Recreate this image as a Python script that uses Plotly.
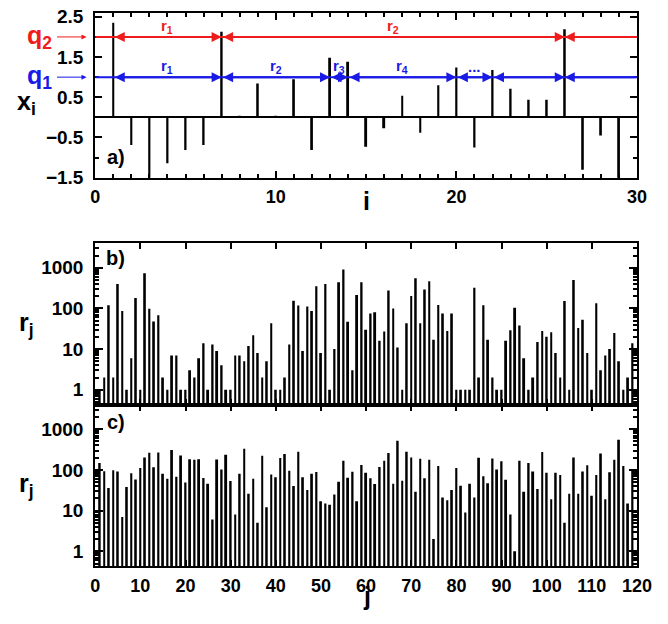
import plotly.graph_objects as go

# ---------------- data ----------------
# panel a: series x_i, i = 1..29
i_vals = list(range(1, 30))
x_vals = [2.35, -0.69, -1.60, -1.14, -0.81, -0.69, 2.13, 0.04, 0.84, 0.04,
          0.95, -0.81, 1.48, 1.38, -0.73, -0.27, 0.54, -0.38, 0.80, 1.24,
          -0.75, 1.18, 0.71, 0.44, 0.44, 2.19, -1.30, -0.45, -1.60]
q_levels = [1.0, 2.0]
q_names = ["q<sub>1</sub>", "q<sub>2</sub>"]
q_colors = ["#1a1ae6", "#ee1c1c"]
seg_labels_q1 = ["r<sub>1</sub>", "r<sub>2</sub>", "r<sub>3</sub>", "r<sub>4</sub>", "...", ""]
seg_labels_q2 = ["r<sub>1</sub>", "r<sub>2</sub>"]

# panels b and c: return intervals r_j, j = 1..119
j_vals = list(range(1, 120))
r_b = [1, 2, 120, 2, 400, 87, 1, 6, 180, 1,
       735, 98, 48, 68, 2, 1, 7, 7, 1, 1,
       3, 2, 6, 14, 1, 13, 9, 4, 1, 1,
       7, 7, 5, 12, 22, 8, 2, 5, 43, 1,
       1, 2, 13, 155, 118, 9, 111, 87, 353, 8,
       400, 1, 10, 440, 900, 47, 3, 215, 440, 30,
       75, 81, 16, 27, 277, 100, 11, 1, 43, 203,
       550, 43, 294, 465, 17, 122, 75, 28, 75, 1,
       1, 1, 1, 323, 2, 120, 17, 2, 1, 1,
       16, 29, 104, 38, 6, 1, 2, 15, 28, 20,
       26, 8, 2, 152, 1, 500, 33, 53, 8, 1,
       134, 3, 7, 10, 25, 5, 1, 2, 14]
r_c = [148, 93, 36, 98, 91, 7, 38, 83, 58, 112,
       202, 263, 116, 268, 80, 61, 309, 68, 225, 49,
       184, 178, 184, 63, 46, 6, 180, 102, 235, 53,
       8, 80, 332, 26, 61, 5, 222, 12, 77, 66,
       195, 247, 96, 40, 280, 66, 32, 80, 89, 17,
       15, 14, 25, 51, 168, 64, 90, 17, 132, 85,
       62, 45, 118, 168, 262, 46, 520, 54, 280, 203,
       29, 187, 62, 178, 2, 125, 21, 18, 32, 112,
       41, 9, 46, 21, 200, 70, 47, 190, 102, 163,
       57, 8, 1, 168, 29, 148, 91, 34, 277, 85,
       19, 85, 75, 5, 26, 203, 26, 91, 130, 23,
       75, 253, 19, 87, 178, 550, 125, 15, 100]

a_xticks = [0, 10, 20, 30]
a_yticks = [-1.5, -0.5, 0.5, 1.5, 2.5]
bc_xticks = list(range(0, 121, 10))
log_ticks = [1, 10, 100, 1000]
log_ticktext = ["1", "10", "100", "1000"]

# ---------------- layout helpers ----------------
W, H = 668, 624
FONT = "Liberation Sans, Arial, sans-serif"
def px_x(p):
    return p / W
def px_y(p):
    return min(1.0, 1 - p / H)

xdom = [px_x(93), px_x(651.5)]
minor_log = [m * 10 ** k for k in range(-1, 4) for m in range(2, 10)]

fig = go.Figure()
fig.add_trace(go.Bar(x=i_vals, y=x_vals, width=0.11, marker=dict(color="black", line=dict(width=0)),
                     xaxis="x", yaxis="y"))
fig.add_trace(go.Bar(x=j_vals, y=r_b, width=0.42, marker=dict(color="black", line=dict(width=0)),
                     xaxis="x2", yaxis="y2"))
fig.add_trace(go.Bar(x=j_vals, y=r_c, width=0.42, marker=dict(color="black", line=dict(width=0)),
                     xaxis="x3", yaxis="y3"))

tickfont = dict(family=FONT, size=19, color="black", weight="bold")
xtickfont = dict(family=FONT, size=18, color="black", weight="bold")
common_axis = dict(showline=True, linecolor="black", linewidth=2, mirror="ticks", ticks="inside",
                   tickcolor="black", tickwidth=1.5, showgrid=False)

fig.update_layout(
    width=W, height=H, margin=dict(l=0, r=0, t=0, b=0),
    paper_bgcolor="white", plot_bgcolor="white", showlegend=False,
    xaxis=dict(domain=xdom, anchor="y", range=[0, 30], tickmode="array", tickvals=a_xticks,
               ticklen=7, minor=dict(dtick=1, tick0=0, ticks="inside", ticklen=4, tickcolor="black"),
               ticklabelstandoff=2, zeroline=False, tickfont=xtickfont, **common_axis),
    yaxis=dict(domain=[px_y(176.5), px_y(7)], anchor="x", range=[-1.5, 2.6], tickmode="array",
               tickvals=a_yticks, tickformat=".1f", ticklen=7,
               minor=dict(tickmode="array", tickvals=[-1, 0, 1, 2], ticks="inside", ticklen=4, tickcolor="black"),
               ticklabelstandoff=6, zeroline=True, zerolinecolor="black", zerolinewidth=1.5,
               tickfont=tickfont, **common_axis),
    xaxis2=dict(domain=xdom, anchor="y2", range=[0, 120], tickmode="array", tickvals=bc_xticks,
                showticklabels=False, ticklen=6, zeroline=False, tickfont=xtickfont, **common_axis),
    yaxis2=dict(domain=[px_y(410), px_y(244)], anchor="x2", type="log", range=[-0.37, 3.6],
                tickmode="array", tickvals=log_ticks, ticktext=log_ticktext, ticklen=8,
                minor=dict(tickmode="array", tickvals=minor_log, ticks="inside", ticklen=4, tickcolor="black"),
                ticklabelstandoff=6, zeroline=False, tickfont=tickfont, **common_axis),
    xaxis3=dict(domain=xdom, anchor="y3", range=[0, 120], tickmode="array", tickvals=bc_xticks,
                ticklen=6, ticklabelstandoff=2, zeroline=False, tickfont=xtickfont, **common_axis),
    yaxis3=dict(domain=[px_y(576), px_y(410)], anchor="x3", type="log", range=[-0.37, 3.6],
                tickmode="array", tickvals=log_ticks, ticktext=log_ticktext, ticklen=8,
                minor=dict(tickmode="array", tickvals=minor_log, ticks="inside", ticklen=4, tickcolor="black"),
                ticklabelstandoff=6, zeroline=False, tickfont=tickfont, **common_axis),
)

annotations = []
shapes = []
seg_label_sets = [seg_labels_q1, seg_labels_q2]
for q, name, col, labels in zip(q_levels, q_names, q_colors, seg_label_sets):
    # threshold line
    shapes.append(dict(type="line", xref="x", yref="y", x0=0, x1=30, y0=q, y1=q,
                       line=dict(color=col, width=2), layer="above"))
    cross = [iv for iv, v in zip(i_vals, x_vals) if v > q]
    # double-headed arrows between successive exceedances
    for k in range(len(cross) - 1):
        a0, a1 = cross[k], cross[k + 1]
        annotations.append(dict(x=a1, y=q, ax=a0, ay=q, xref="x", yref="y", axref="x", ayref="y",
                                text="", showarrow=True, arrowside="end+start", arrowhead=2,
                                arrowsize=1.0, arrowwidth=2, arrowcolor=col, standoff=0, startstandoff=0))
        if k < len(labels) and labels[k]:
            annotations.append(dict(x=(a0 + a1) / 2, y=q + 0.27, xref="x", yref="y",
                                    xanchor="center", yanchor="middle",
                                    text="<b>" + labels[k] + "</b>",
                                    showarrow=False, font=dict(family=FONT, size=15, color=col)))
    # last open interval
    annotations.append(dict(x=cross[-1], y=q, ax=30, ay=q, xref="x", yref="y", axref="x", ayref="y",
                            text="", showarrow=True, arrowside="end", arrowhead=2,
                            arrowsize=1.0, arrowwidth=2, arrowcolor=col, standoff=0))
    # q label with small arrow, left of panel
    annotations.append(dict(x=px_x(36), y=q, xref="paper", yref="y", xanchor="center", yanchor="middle",
                            text="<b>" + name + "</b>",
                            showarrow=False, font=dict(family=FONT, size=25, color=col)))
    annotations.append(dict(x=px_x(84), y=q, xref="paper", yref="y", ax=-31, ay=0, text="",
                            showarrow=True, arrowhead=2, arrowsize=1, arrowwidth=1, arrowcolor=col))

big = dict(family=FONT, size=25, color="black")
lab = dict(family=FONT, size=20, color="black")
def paper_text(x, y, t, f):
    return dict(x=px_x(x), y=px_y(y), xref="paper", yref="paper", xanchor="center", yanchor="middle",
                text=t, showarrow=False, font=f)
annotations += [
    paper_text(22, 100, "<b>x<sub>i</sub></b>", big),
    paper_text(373, 200, "<b>i</b>", big),
    paper_text(22, 327, "<b>r<sub>j</sub></b>", big),
    paper_text(22, 492, "<b>r<sub>j</sub></b>", big),
    paper_text(373, 607, "<b>j</b>", big),
    paper_text(114, 155, "<b>a)</b>", lab),
    paper_text(114, 259, "<b>b)</b>", lab),
    paper_text(114, 428, "<b>c)</b>", lab),
]
fig.update_layout(annotations=annotations, shapes=shapes)
fig.write_html("out.html", config={"displayModeBar": False},
               post_script="document.body.style.margin='0';document.body.style.overflow='hidden';")
